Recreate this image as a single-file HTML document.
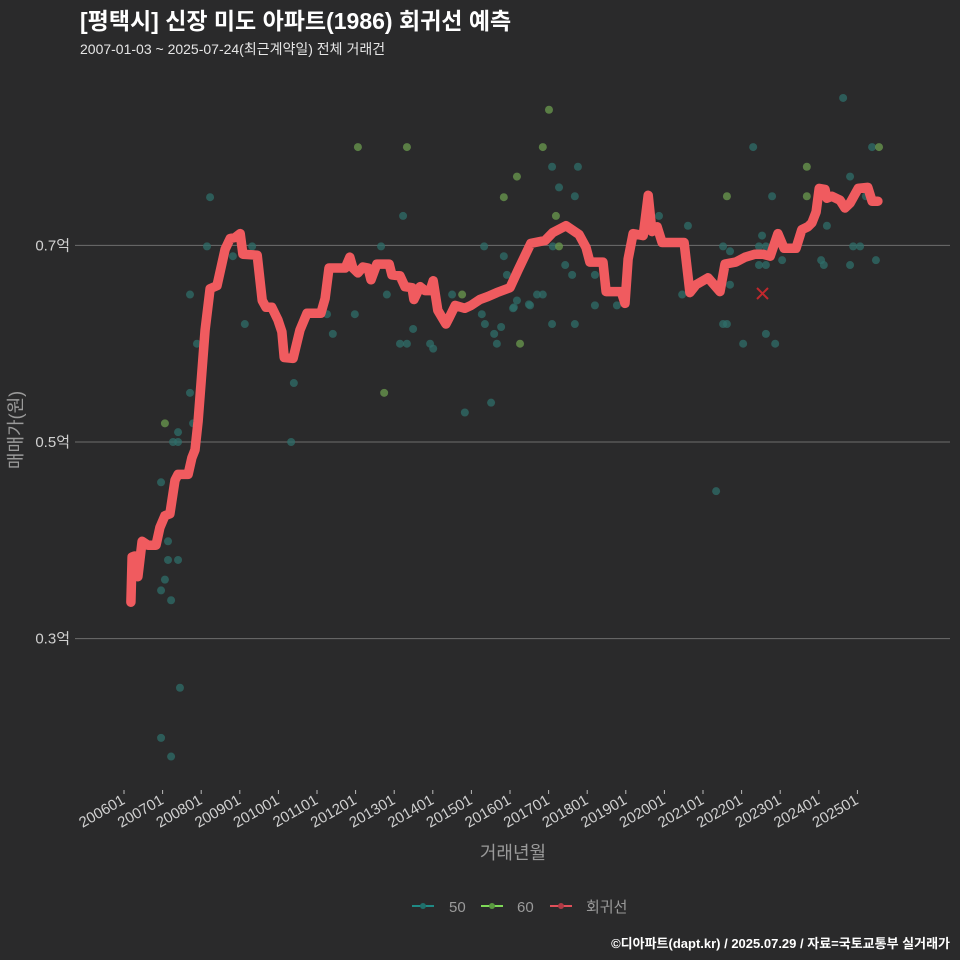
<!DOCTYPE html>
<html><head><meta charset="utf-8">
<style>
html,body{margin:0;padding:0;background:#2a2a2b;}
svg{display:block;font-family:"Liberation Sans","Noto Sans CJK KR",sans-serif;}
</style></head>
<body>
<svg id="chart" width="960" height="960" viewBox="0 0 960 960">
<rect x="0" y="0" width="960" height="960" fill="#2a2a2b"/>
<text x="80" y="29" fill="#ffffff" font-size="23" font-weight="bold">[평택시] 신장 미도 아파트(1986) 회귀선 예측</text>
<text x="80" y="54" fill="#e6e6e6" font-size="14">2007-01-03 ~ 2025-07-24(최근계약일) 전체 거래건</text>
<g id="grid"></g>
<g id="yticks"></g>
<g id="xticks"></g>
<text x="22" y="430" fill="#9a9a9a" font-size="18" transform="rotate(-90 22 430)" text-anchor="middle">매매가(원)</text>
<text x="513" y="859" fill="#9a9a9a" font-size="18" text-anchor="middle">거래년월</text>
<g id="points50"></g>
<g id="points60"></g>
<g id="reg"></g>
<g>
<line x1="757" y1="288" x2="768" y2="299" stroke="#c0282d" stroke-width="2"/>
<line x1="768" y1="288" x2="757" y2="299" stroke="#c0282d" stroke-width="2"/>
</g>
<g>
<g><line x1="412" y1="906" x2="434" y2="906" stroke="#1f8a85" stroke-width="2"/><circle cx="423" cy="906" r="3" fill="#1f6f6b"/><text x="449" y="912" fill="#9a9a9a" font-size="15">50</text></g>
<g><line x1="481" y1="906" x2="503" y2="906" stroke="#7ed957" stroke-width="2"/><circle cx="492" cy="906" r="3" fill="#5a9a40"/><text x="517" y="912" fill="#9a9a9a" font-size="15">60</text></g>
<g><line x1="550" y1="906" x2="572" y2="906" stroke="#e0505a" stroke-width="2"/><circle cx="561" cy="906" r="3" fill="#b03a45"/><text x="586" y="912" fill="#9a9a9a" font-size="15">회귀선</text></g>
</g>
<text x="950" y="948" fill="#ffffff" font-size="13" font-weight="bold" text-anchor="end">©디아파트(dapt.kr) / 2025.07.29 / 자료=국토교통부 실거래가</text>
</svg>
<script>
const yTickValues=[0.3,0.5,0.7];
const yTickLabels=["0.3억","0.5억","0.7억"];
const xTickYears=[2006,2007,2008,2009,2010,2011,2012,2013,2014,2015,2016,2017,2018,2019,2020,2021,2022,2023,2024,2025];
const xTickLabels=["200601","200701","200801","200901","201001","201101","201201","201301","201401","201501","201601","201701","201801","201901","202001","202101","202201","202301","202401","202501"];
const regYears=[2006.18,2006.21,2006.28,2006.36,2006.47,2006.62,2006.83,2006.93,2007.06,2007.19,2007.32,2007.40,2007.66,2007.76,2007.84,2007.92,2008.10,2008.23,2008.41,2008.62,2008.75,2008.88,2009.01,2009.08,2009.45,2009.58,2009.68,2009.83,2009.99,2010.09,2010.15,2010.38,2010.56,2010.74,2011.10,2011.21,2011.31,2011.73,2011.85,2011.93,2012.06,2012.19,2012.32,2012.40,2012.55,2012.87,2012.94,2013.15,2013.28,2013.46,2013.51,2013.67,2013.80,2013.93,2014.01,2014.13,2014.34,2014.42,2014.58,2014.83,2014.99,2015.22,2015.43,2015.66,2016.00,2016.21,2016.54,2016.91,2017.11,2017.45,2017.79,2017.97,2018.07,2018.41,2018.49,2018.88,2018.98,2019.06,2019.19,2019.45,2019.58,2019.68,2019.81,2019.94,2020.51,2020.66,2020.82,2021.13,2021.44,2021.57,2021.85,2022.09,2022.35,2022.55,2022.74,2022.94,2023.10,2023.41,2023.56,2023.72,2023.82,2023.93,2024.01,2024.16,2024.21,2024.34,2024.55,2024.68,2024.81,2025.02,2025.27,2025.38,2025.53];
const regValues=[0.337,0.383,0.384,0.363,0.399,0.395,0.395,0.413,0.425,0.427,0.461,0.467,0.467,0.484,0.492,0.521,0.614,0.656,0.659,0.696,0.707,0.708,0.712,0.691,0.690,0.644,0.637,0.637,0.624,0.612,0.586,0.585,0.614,0.631,0.631,0.646,0.677,0.677,0.688,0.677,0.672,0.678,0.677,0.665,0.681,0.681,0.670,0.669,0.658,0.657,0.645,0.658,0.654,0.654,0.664,0.634,0.620,0.626,0.639,0.636,0.639,0.645,0.648,0.652,0.657,0.675,0.702,0.705,0.713,0.720,0.711,0.698,0.683,0.683,0.653,0.653,0.641,0.686,0.712,0.710,0.751,0.714,0.719,0.703,0.703,0.652,0.660,0.667,0.653,0.681,0.683,0.688,0.691,0.691,0.689,0.712,0.697,0.697,0.716,0.719,0.723,0.734,0.758,0.757,0.748,0.750,0.746,0.738,0.743,0.758,0.759,0.745,0.745];
const s50Years=[2008.23,2008.15,2007.71,2009.13,2007.89,2007.71,2007.79,2007.40,2007.27,2007.40,2006.96,2007.14,2007.14,2007.40,2007.06,2006.96,2007.22,2006.96,2007.22,2007.45,2010.40,2010.33,2009.32,2008.82,2013.23,2012.66,2012.81,2011.98,2011.41,2011.26,2013.15,2013.33,2013.49,2013.93,2014.01,2015.33,2015.84,2015.92,2014.50,2015.27,2015.35,2015.77,2015.59,2015.66,2016.10,2016.18,2014.83,2015.51,2016.49,2017.09,2017.76,2017.27,2017.68,2017.11,2017.43,2017.61,2018.20,2016.70,2016.85,2016.08,2016.52,2018.20,2018.77,2017.09,2017.68,2019.86,2020.61,2022.30,2021.52,2021.70,2020.46,2021.70,2021.52,2021.62,2022.45,2022.63,2022.53,2022.45,2022.63,2022.79,2023.05,2022.63,2022.87,2022.04,2021.34,2024.63,2024.81,2025.38,2025.22,2024.21,2024.06,2024.13,2024.89,2025.07,2024.81,2025.48];
const s50Values=[0.749,0.699,0.650,0.620,0.600,0.550,0.519,0.510,0.500,0.500,0.459,0.399,0.380,0.380,0.360,0.349,0.339,0.199,0.180,0.250,0.560,0.500,0.699,0.689,0.730,0.699,0.650,0.630,0.610,0.630,0.600,0.600,0.615,0.600,0.595,0.699,0.689,0.670,0.650,0.630,0.620,0.617,0.610,0.600,0.637,0.644,0.530,0.540,0.640,0.780,0.780,0.759,0.750,0.699,0.680,0.670,0.670,0.650,0.650,0.636,0.639,0.639,0.639,0.620,0.620,0.730,0.720,0.800,0.699,0.694,0.650,0.660,0.620,0.620,0.699,0.699,0.710,0.680,0.680,0.750,0.685,0.610,0.600,0.600,0.450,0.850,0.770,0.800,0.750,0.720,0.685,0.680,0.699,0.699,0.680,0.685];
const s60Years=[2007.06,2012.74,2012.06,2013.33,2015.84,2014.76,2016.26,2017.01,2016.85,2016.18,2017.19,2017.27,2021.62,2023.69,2025.56,2023.69];
const s60Values=[0.519,0.550,0.800,0.800,0.749,0.650,0.600,0.838,0.800,0.770,0.730,0.699,0.750,0.780,0.800,0.750];

const NS="http://www.w3.org/2000/svg";
function xScale(yr){return 124+(yr-2006)*38.6;}
function yScale(v){return 442-(v-0.5)*983;}
function mk(tag,attrs,parent){const e=document.createElementNS(NS,tag);for(const k in attrs)e.setAttribute(k,attrs[k]);parent.appendChild(e);return e;}

const grid=document.getElementById('grid'),yt=document.getElementById('yticks'),xt=document.getElementById('xticks');
yTickValues.forEach((v,i)=>{
  const l=mk('line',{x1:75,x2:950,y1:yScale(v),y2:yScale(v),stroke:'#6e6e6e','stroke-width':1},grid);
  
  
  const t=mk('text',{x:70,y:yScale(v)+5,fill:'#d0d0d0','font-size':15,'text-anchor':'end'},yt);
  t.textContent=yTickLabels[i];
  
  
});
xTickYears.forEach((yr,i)=>{
  const x=xScale(yr);
  const tk=mk('line',{x1:x,x2:x,y1:790,y2:794,stroke:'#bbbbbb','stroke-width':1},xt);
  
  
  const t=mk('text',{x:x+2,y:803,fill:'#d0d0d0','font-size':15,'text-anchor':'end',transform:'rotate(-30 '+(x+2)+' 803)'},xt);
  t.textContent=xTickLabels[i];
  
  
});
const p50=document.getElementById('points50');
s50Years.forEach((yr,i)=>{
  const c=mk('circle',{cx:xScale(yr),cy:yScale(s50Values[i]),r:4,fill:'#2f6e69','fill-opacity':0.75},p50);
  
  
});
const p60=document.getElementById('points60');
s60Years.forEach((yr,i)=>{
  const c=mk('circle',{cx:xScale(yr),cy:yScale(s60Values[i]),r:4,fill:'#66934c','fill-opacity':0.8},p60);
  
  
});
const reg=document.getElementById('reg');
const d=regYears.map((yr,i)=>(i?'L':'M')+xScale(yr).toFixed(1)+','+yScale(regValues[i]).toFixed(1)).join(' ');
const path=mk('path',{d:d,fill:'none',stroke:'#f05b5f','stroke-width':9.5,'stroke-linejoin':'round','stroke-linecap':'round'},reg);


</script>
</body></html>
